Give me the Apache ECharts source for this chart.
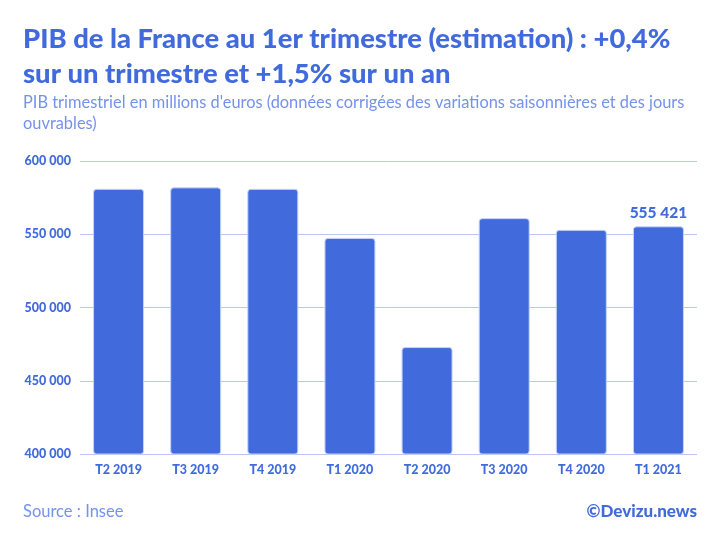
<!DOCTYPE html>
<html>
<head>
<meta charset="utf-8">
<style>
  html, body { margin: 0; padding: 0; background: #fff; }
  #chart { width: 720px; height: 540px; }
</style>
<script src="https://cdn.jsdelivr.net/npm/echarts@6/dist/echarts.min.js"></script>
</head>
<body>
<div id="chart"></div>
<script>
const categories = ['T2 2019', 'T3 2019', 'T4 2019', 'T1 2020', 'T2 2020', 'T3 2020', 'T4 2020', 'T1 2021'];
const pib = [581000, 582000, 581000, 547500, 473000, 561000, 553000, 555421];
const labelledIndex = 7;

const titleText = 'PIB de la France au 1er trimestre (estimation) : +0,4%\nsur un trimestre et +1,5% sur un an';
const subtitleText = "PIB trimestriel en millions d'euros (données corrigées des variations saisonnières et des jours\nouvrables)";
const sourceText = 'Source : Insee';
const creditText = '©Devizu.news';

const dark = '#416BDC';
const light = '#7592EA';
const fontName = 'Lato';

const formatK = v => String(v).replace(/\B(?=(\d{3})+$)/g, ' ');

const myChart = echarts.init(document.getElementById('chart'));

myChart.setOption({
  animation: false,
  backgroundColor: '#fff',
  textStyle: { fontFamily: fontName },
  grid: { left: 80, right: 23, top: 161, bottom: 86 },
  graphic: [
    { type: 'text', left: 23, top: 21, style: { text: titleText, fill: dark, font: '900 27.4px ' + fontName, lineHeight: 35.5 } },
    { type: 'text', left: 23, top: 92, style: { text: subtitleText, fill: light, font: '16.4px ' + fontName, lineHeight: 21 } },
    { type: 'text', left: 23, top: 503, style: { text: sourceText, fill: light, font: '16.5px ' + fontName } },
    { type: 'text', right: 23, top: 503, style: { text: creditText, fill: dark, font: '900 17px ' + fontName } }
  ],
  xAxis: {
    type: 'category',
    data: categories,
    axisLine: { show: false },
    axisTick: { show: false },
    axisLabel: { color: dark, fontSize: 12.5, fontWeight: 900, margin: 9 }
  },
  yAxis: {
    type: 'value',
    min: 400000,
    max: 600000,
    interval: 50000,
    axisLine: { show: false },
    axisTick: { show: false },
    axisLabel: { color: dark, fontSize: 12.5, fontWeight: 900, margin: 9, formatter: formatK },
    splitLine: { lineStyle: { color: '#B9C8F3', width: 1 } }
  },
  series: [
    {
      type: 'bar',
      barWidth: 51,
      data: pib.map((v, i) => ({
        value: v,
        label: {
          show: i === labelledIndex,
          position: 'top',
          distance: 5,
          formatter: formatK(v),
          color: dark,
          fontSize: 15.5,
          fontWeight: 900,
          letterSpacing: 1.2
        }
      })),
      itemStyle: {
        color: dark,
        borderRadius: 3,
        borderColor: '#C6D3F6',
        borderWidth: 1
      }
    }
  ]
});
</script>
</body>
</html>
